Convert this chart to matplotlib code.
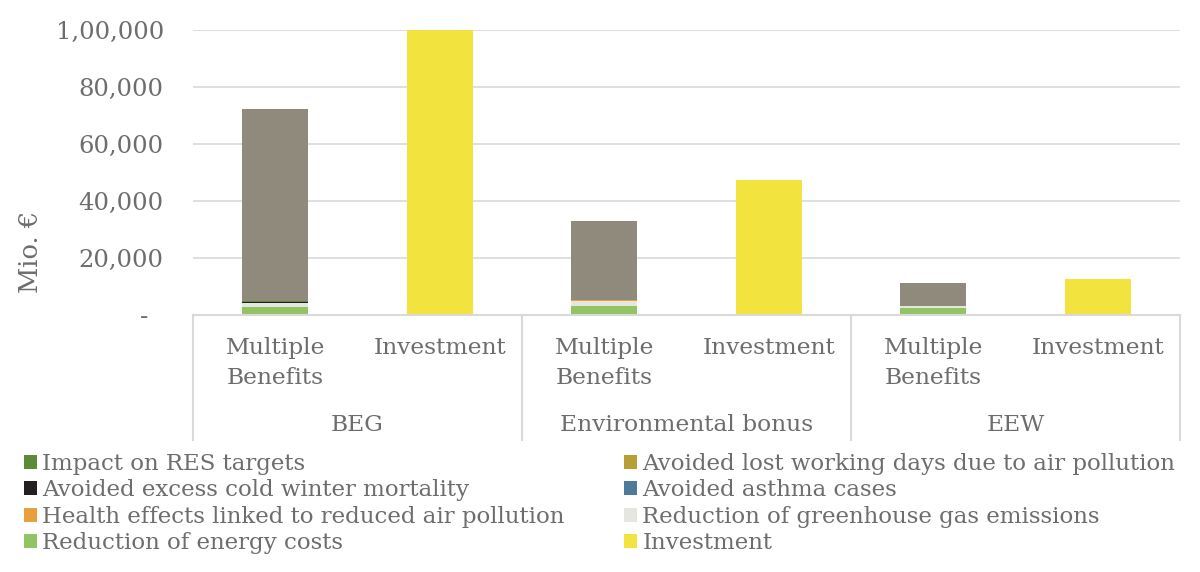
import matplotlib
matplotlib.use("Agg")
import matplotlib.pyplot as plt
from matplotlib.patches import Patch
from matplotlib.ticker import FuncFormatter
from matplotlib.lines import Line2D

plt.rcParams['font.family'] = ['DejaVu Serif']

groups = ["BEG", "Environmental bonus", "EEW"]
subcats = ["Multiple\nBenefits", "Investment"]

# series (bottom to top in stack), values per bar: [BEG MB, BEG Inv, EB MB, EB Inv, EEW MB, EEW Inv]
energy_costs = [2800, 0, 3000, 0, 2500, 0]
ghg = [1300, 0, 2000, 0, 700, 0]
health = [150, 0, 120, 0, 80, 0]
asthma = [30, 0, 20, 0, 10, 0]
cold_winter = [400, 0, 30, 0, 20, 0]
working_days = [40, 0, 30, 0, 10, 0]
res_targets = [40, 0, 30, 0, 10, 0]
other = [67600, 0, 27800, 0, 8000, 0]
investment = [0, 100000, 0, 47400, 0, 12700]

series = [
    ("Reduction of energy costs", energy_costs, "#93c464"),
    ("Reduction of greenhouse gas emissions", ghg, "#e6e6e1"),
    ("Health effects linked to reduced air pollution", health, "#e9a03c"),
    ("Avoided asthma cases", asthma, "#4f7a99"),
    ("Avoided excess cold winter mortality", cold_winter, "#231f20"),
    ("Avoided lost working days due to air pollution", working_days, "#b5a133"),
    ("Impact on RES targets", res_targets, "#5b8a3a"),
    ("_other", other, "#8f8a7c"),
    ("Investment", investment, "#f3e33f"),
]

W, H = 1200, 572
fig = plt.figure(figsize=(W / 100, H / 100), dpi=100)
ax = fig.add_axes([193 / W, 1 - 315 / H, (1180 - 193) / W, (315 - 30) / H])

x = list(range(len(groups) * len(subcats)))
bottom = [0] * len(x)
for name, vals, col in series:
    ax.bar(x, vals, width=0.4, bottom=bottom, color=col, label=name, zorder=3)
    bottom = [b + v for b, v in zip(bottom, vals)]

ax.set_xlim(-0.5, len(x) - 0.5)
ax.set_ylim(0, 100000)
ax.set_yticks([0, 20000, 40000, 60000, 80000, 100000])


def indian(v, pos=None):
    v = int(round(v))
    if v == 0:
        return "-  "
    s = str(v)
    last3 = s[-3:]
    rest = s[:-3]
    parts = []
    while len(rest) > 2:
        parts.insert(0, rest[-2:])
        rest = rest[:-2]
    if rest:
        parts.insert(0, rest)
    return ",".join(parts + [last3])


tcol = "#6d6d6d"
ax.yaxis.set_major_formatter(FuncFormatter(indian))
ax.tick_params(axis='y', length=0, pad=21, labelsize=17.5, labelcolor=tcol)
ax.tick_params(axis='x', length=0, labelbottom=False)
ax.grid(axis='y', color="#d9d9d9", linewidth=1.2, zorder=0)
for sp in ax.spines.values():
    sp.set_visible(False)

line_col = "#d9d9d9"
# axis line and category separators
ax.add_line(Line2D([0, 1], [0, 0], transform=ax.transAxes, color=line_col, lw=1.5, clip_on=False, zorder=4))
depth = (440 - 315) / (315 - 30)
for i in range(len(groups) + 1):
    xs = i / len(groups)
    ax.add_line(Line2D([xs, xs], [0, -depth], transform=ax.transAxes, color=line_col, lw=1.5, clip_on=False))

trans = ax.get_xaxis_transform()
for gi, g in enumerate(groups):
    for si, s in enumerate(subcats):
        xi = gi * len(subcats) + si
        ax.text(xi, -(337 - 315) / 285, s, transform=trans, ha='center', va='top',
                fontsize=16.8, color=tcol, linespacing=1.45)
    ax.text(gi * len(subcats) + 0.5, -(425 - 315) / 285, g, transform=trans, ha='center',
            va='center', fontsize=16.8, color=tcol)

fig.text(30 / W, 1 - 252 / H, "Mio. €", rotation=90, ha='center', va='center', fontsize=18.5, color=tcol)

# legend in two columns, row-major order
leg_order = [
    "Impact on RES targets", "Avoided lost working days due to air pollution",
    "Avoided excess cold winter mortality", "Avoided asthma cases",
    "Health effects linked to reduced air pollution", "Reduction of greenhouse gas emissions",
    "Reduction of energy costs", "Investment",
]
colmap = {n: c for n, _, c in series}
left = leg_order[0::2]
right = leg_order[1::2]
for names, xpos in ((left, 24), (right, 624)):
    handles = [Patch(facecolor=colmap[n], edgecolor='none') for n in names]
    lg = fig.legend(handles, names, loc='upper left', bbox_to_anchor=(xpos / W, 1 - 453 / H),
                    frameon=False, fontsize=16.5, handlelength=0.55, handleheight=0.55,
                    handletextpad=0.25, labelspacing=0.19, borderaxespad=0, borderpad=0)
    for t in lg.get_texts():
        t.set_color(tcol)

fig.savefig("out.png", dpi=100)
